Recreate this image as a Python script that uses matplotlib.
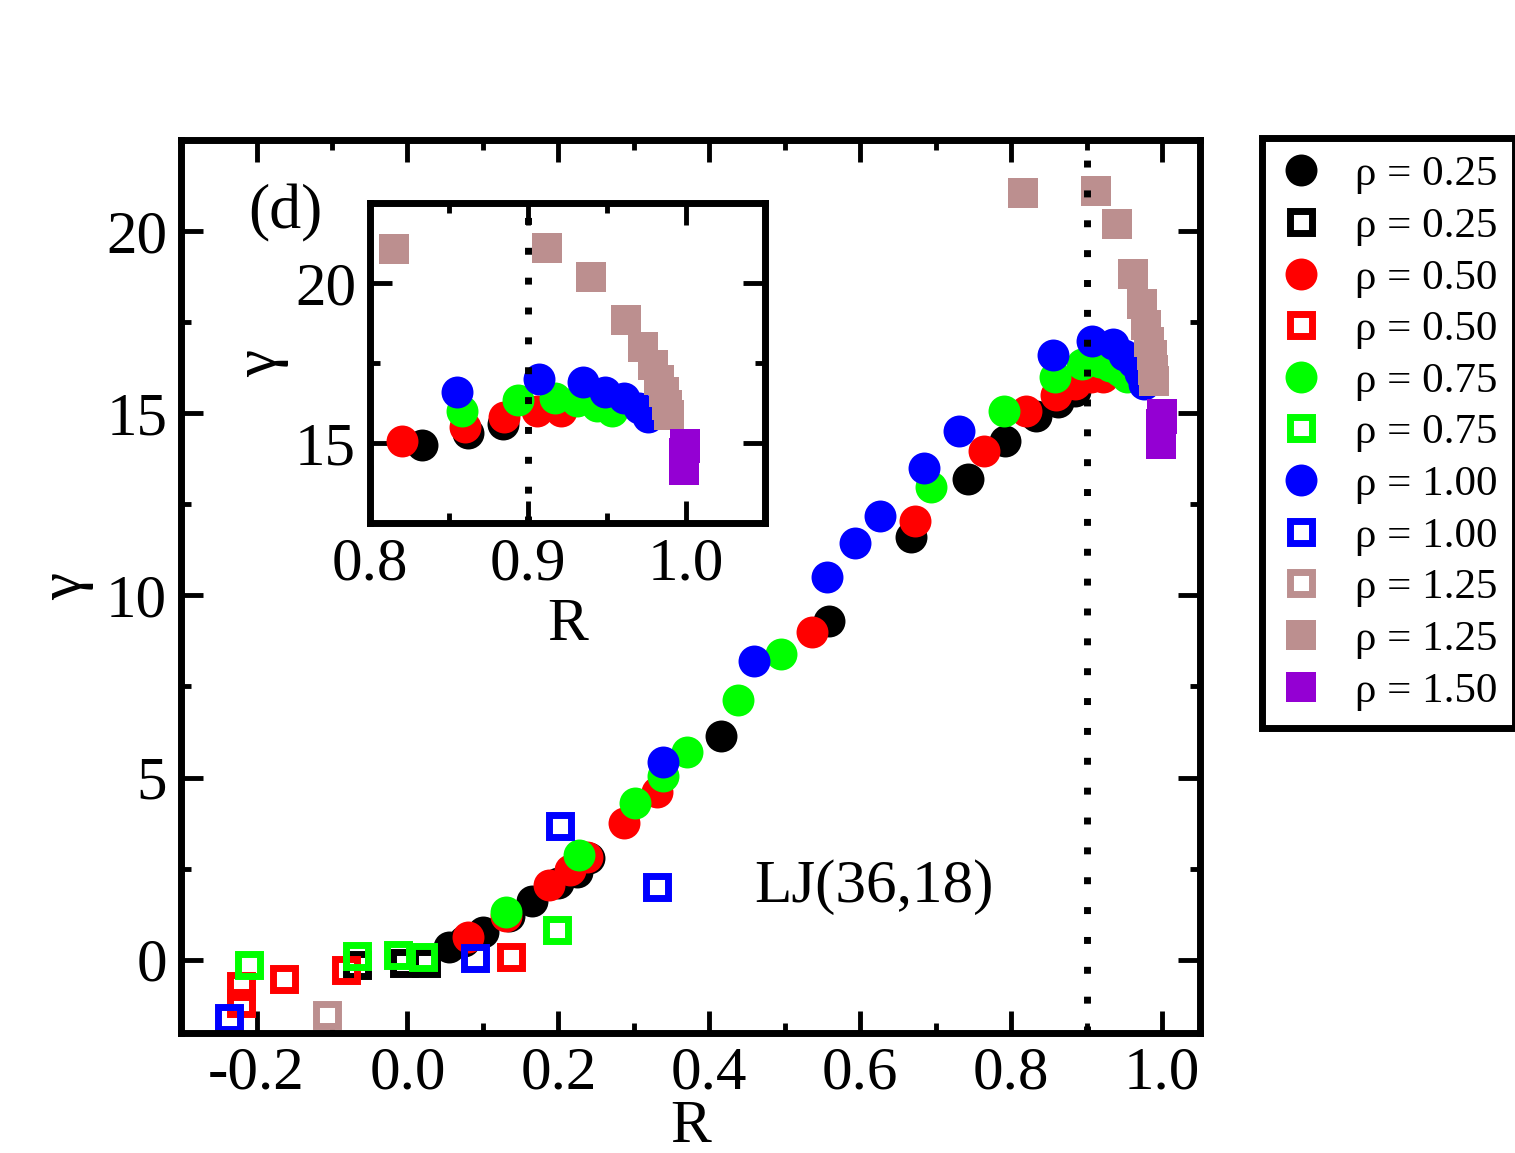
import matplotlib
matplotlib.use('Agg')
import matplotlib.pyplot as plt
from matplotlib.ticker import MultipleLocator

plt.rcParams['font.family'] = ['Liberation Serif', 'DejaVu Serif']
plt.rcParams['axes.unicode_minus'] = False

# rho = 0.25
r_025 = [0.055, 0.075, 0.10, 0.135, 0.165, 0.20, 0.225, 0.24, 0.415, 0.558, 0.667, 0.743, 0.792, 0.833, 0.862, 0.884]
g_025 = [0.35, 0.5, 0.75, 1.2, 1.6, 2.1, 2.4, 2.8, 6.15, 9.3, 11.6, 13.2, 14.25, 14.93, 15.3, 15.6]
r_025o = [-0.067, -0.005, 0.025]
g_025o = [-0.14, -0.09, -0.08]

# rho = 0.50
r_050 = [0.08, 0.13, 0.187, 0.216, 0.238, 0.287, 0.331, 0.536, 0.672, 0.764, 0.82, 0.86, 0.885, 0.906, 0.921]
g_050 = [0.63, 1.2, 2.06, 2.47, 2.83, 3.76, 4.6, 9.0, 12.05, 13.96, 15.06, 15.5, 15.8, 15.99, 15.99]
r_050o = [-0.221, -0.221, -0.164, -0.082, 0.137]
g_050o = [-0.73, -1.19, -0.53, -0.29, 0.08]

# rho = 0.75
r_075 = [0.13, 0.227, 0.302, 0.338, 0.371, 0.438, 0.495, 0.694, 0.79, 0.858, 0.894, 0.917, 0.931, 0.944, 0.953]
g_075 = [1.32, 2.88, 4.3, 5.03, 5.7, 7.14, 8.38, 12.97, 15.05, 16.0, 16.34, 16.4, 16.3, 16.15, 16.0]
r_075o = [-0.21, -0.067, -0.013, 0.02, 0.198]
g_075o = [-0.14, 0.09, 0.13, 0.07, 0.82]

# rho = 1.00
r_100 = [0.338, 0.459, 0.556, 0.593, 0.626, 0.684, 0.731, 0.855, 0.907, 0.935, 0.949, 0.961, 0.97, 0.976]
g_100 = [5.44, 8.21, 10.5, 11.43, 12.17, 13.5, 14.5, 16.6, 16.99, 16.9, 16.6, 16.4, 16.1, 15.8]
r_100o = [-0.237, 0.09, 0.202, 0.330]
g_100o = [-1.6, 0.05, 3.66, 2.0]

# rho = 1.25
r_125o = [-0.106]
g_125o = [-1.51]
r_125 = [0.815, 0.912, 0.94, 0.962, 0.973, 0.979, 0.983, 0.986, 0.988, 0.9895]
g_125 = [21.05, 21.1, 20.2, 18.83, 18.0, 17.43, 16.97, 16.6, 16.19, 15.88]

# rho = 1.50
r_150 = [0.9993, 0.9992, 0.999, 0.999, 0.9988, 0.9987, 0.9985]
g_150 = [14.98, 14.85, 14.7, 14.55, 14.4, 14.28, 14.16]

brown = '#bc8f8f'
series = [
    (r_025, g_025, 'o', 'black', 'ρ = 0.25'),
    (r_025o, g_025o, 'so', 'black', 'ρ = 0.25'),
    (r_050, g_050, 'o', 'red', 'ρ = 0.50'),
    (r_050o, g_050o, 'so', 'red', 'ρ = 0.50'),
    (r_075, g_075, 'o', '#00ff00', 'ρ = 0.75'),
    (r_075o, g_075o, 'so', '#00ff00', 'ρ = 0.75'),
    (r_100, g_100, 'o', 'blue', 'ρ = 1.00'),
    (r_100o, g_100o, 'so', 'blue', 'ρ = 1.00'),
    (r_125o, g_125o, 'so', brown, 'ρ = 1.25'),
    (r_125, g_125, 's', brown, 'ρ = 1.25'),
    (r_150, g_150, 's', '#9400d3', 'ρ = 1.50'),
]


def draw(ax):
    lines = []
    for x, y, m, c, lab in series:
        if m == 'o':
            l, = ax.plot(x, y, 'o', ms=23, mfc=c, mec=c, mew=0, label=lab)
        elif m == 'so':
            l, = ax.plot(x, y, 's', ms=16, mfc='none', mec=c, mew=5, label=lab)
        else:
            l, = ax.plot(x, y, 's', ms=21, mfc=c, mec=c, mew=0, label=lab)
        lines.append(l)
    ax.axvline(0.9, color='k', lw=5, linestyle=(0, (1, 3.3)), zorder=5)
    return lines


def style(ax, fs):
    for s in ax.spines.values():
        s.set_linewidth(5)
    ax.tick_params(which='both', direction='in', top=True, right=True, width=3.5, labelsize=fs)
    ax.tick_params(which='major', length=16, pad=10)
    ax.tick_params(which='minor', length=7)


fig = plt.figure(figsize=(15.15, 11.53), dpi=100)

ax = fig.add_axes([0.1195, 0.1045, 0.6725, 0.774])
handles = draw(ax)
ax.set_xlim(-0.3, 1.05)
ax.set_ylim(-2, 22.5)
ax.xaxis.set_major_locator(MultipleLocator(0.2))
ax.xaxis.set_minor_locator(MultipleLocator(0.1))
ax.yaxis.set_major_locator(MultipleLocator(5))
ax.yaxis.set_minor_locator(MultipleLocator(2.5))
style(ax, 44)
ax.set_xlabel('R', fontsize=44)
ax.set_ylabel('γ', fontsize=44)
ax.xaxis.set_label_coords(0.5, -0.075)
ax.yaxis.set_label_coords(-0.085, 0.5)
ax.text(0.46, 2.0, 'LJ(36,18)', fontsize=44, va='center')

axin = fig.add_axes([0.2442, 0.5464, 0.2607, 0.2775])
draw(axin)
axin.set_xlim(0.8, 1.05)
axin.set_ylim(12.5, 22.5)
axin.xaxis.set_major_locator(MultipleLocator(0.1))
axin.xaxis.set_minor_locator(MultipleLocator(0.05))
axin.yaxis.set_major_locator(MultipleLocator(5))
axin.yaxis.set_minor_locator(MultipleLocator(2.5))
style(axin, 44)
axin.set_xlabel('R', fontsize=44)
axin.set_ylabel('γ', fontsize=44)

fig.text(285 / 1515, 1 - 213 / 1153, '(d)', fontsize=46, ha='center', va='center')

leg = ax.legend(handles=handles, loc='upper left', bbox_to_anchor=(1262 / 1515, 1 - 138 / 1153),
                bbox_transform=fig.transFigure, frameon=True, fancybox=False, edgecolor='k',
                framealpha=1, borderaxespad=0, handlelength=1, handletextpad=0.77,
                labelspacing=0.29, borderpad=0.4, fontsize=31, numpoints=1)
leg.get_frame().set_linewidth(5)

fig.savefig('out.png', dpi=100)
